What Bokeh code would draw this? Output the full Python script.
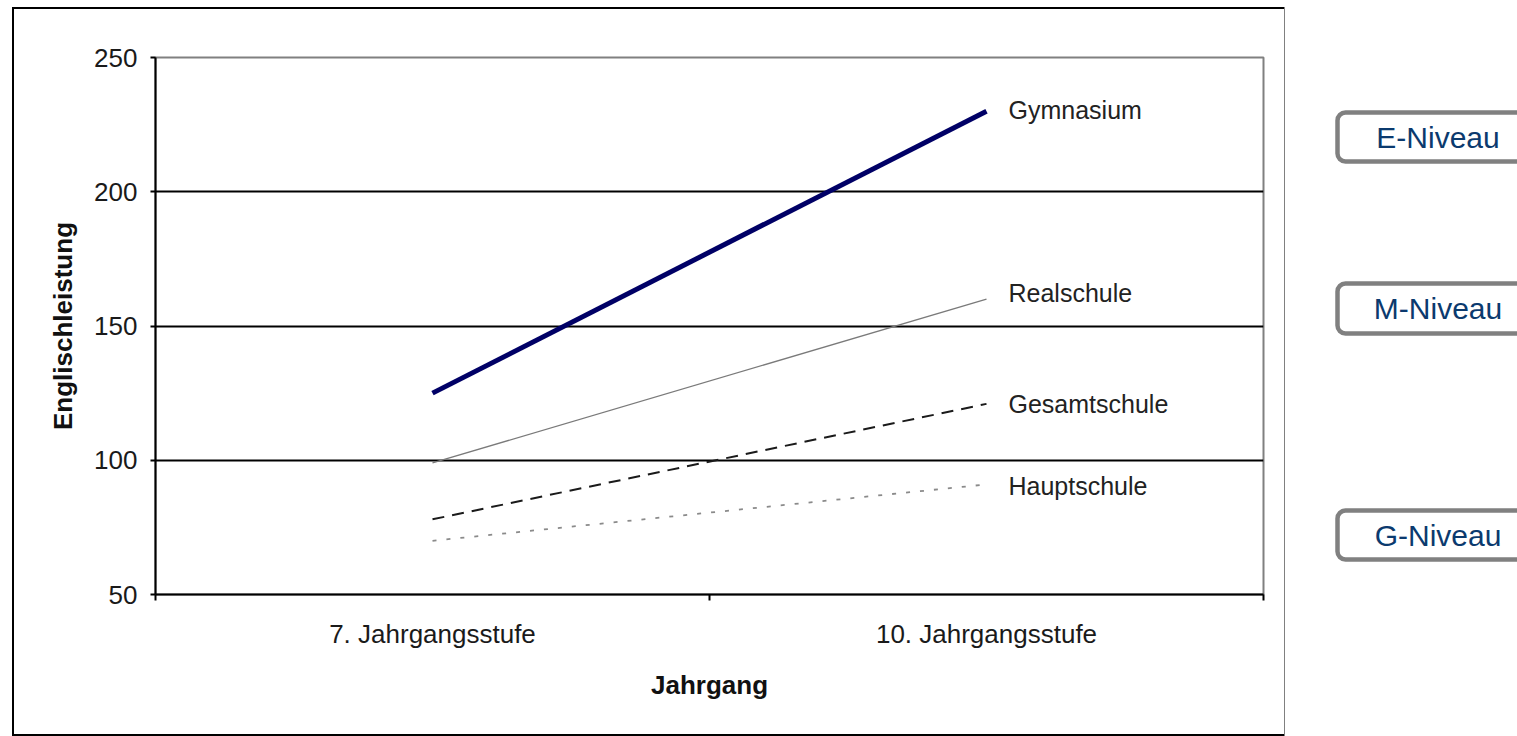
from bokeh.plotting import figure
from bokeh.layouts import row, column
from bokeh.models import Range1d, FixedTicker, ColumnDataSource, Spacer
from bokeh.core.properties import value
from bokeh.embed import file_html
from bokeh.resources import INLINE

# ---- data ----
years = ["7. Jahrgangsstufe", "10. Jahrgangsstufe"]
schools = ["Gymnasium", "Realschule", "Gesamtschule", "Hauptschule"]
gymnasium = [125, 230]
realschule = [99, 160]
gesamtschule = [78, 121]
hauptschule = [70, 91]
y_ticks = [50, 100, 150, 200, 250]
levels = ["E-Niveau", "M-Niveau", "G-Niveau"]

FONT = "Liberation Sans"
PAGE_W, PAGE_H = 1517, 736
CHART_X, CHART_Y, CHART_W, CHART_H = 14, 9, 1270, 725

# category slots on a linear scale: category i occupies [i, i+1], centred at i + 0.5
n = len(years)
xc = [i + 0.5 for i in range(n)]

p = figure(width=CHART_W, height=CHART_H, x_range=Range1d(0, n),
           y_range=Range1d(y_ticks[0], y_ticks[-1]),
           output_backend="svg", toolbar_location=None,
           min_border_left=141, min_border_right=21, min_border_top=48, min_border_bottom=140)
p.styles = {"outline": "2px solid #000000"}
p.background_fill_color = "white"
p.border_fill_color = "white"
p.outline_line_color = "#808080"
p.outline_line_width = 2

# y axis
ya = p.yaxis[0]
ya.ticker = FixedTicker(ticks=y_ticks, minor_ticks=[])
ya.axis_label = "Englischleistung"
ya.axis_label_text_font = FONT
ya.axis_label_text_font_style = "bold"
ya.axis_label_text_font_size = "26px"
ya.axis_label_text_color = "#111111"
ya.axis_label_standoff = 13
ya.major_label_text_font = FONT
ya.major_label_text_font_size = "26px"
ya.major_label_text_color = "#1a1a1a"
ya.major_label_standoff = 13
ya.axis_line_color = "black"
ya.axis_line_width = 2
ya.major_tick_line_color = "black"
ya.major_tick_line_width = 2
ya.major_tick_in = 0
ya.major_tick_out = 5
ya.minor_tick_line_color = None

p.ygrid.ticker = FixedTicker(ticks=y_ticks[1:-1], minor_ticks=[])
p.ygrid.grid_line_color = "black"
p.ygrid.grid_line_width = 2
p.xgrid.visible = False

# x axis: labels at category centres, tick marks at category boundaries
xa = p.xaxis[0]
xa.ticker = FixedTicker(ticks=xc, minor_ticks=list(range(n + 1)))
xa.major_label_overrides = {c: lab for c, lab in zip(xc, years)}
xa.major_tick_line_color = None
xa.major_tick_in = 0
xa.major_tick_out = 0
xa.minor_tick_line_color = "black"
xa.minor_tick_line_width = 2
xa.minor_tick_in = 0
xa.minor_tick_out = 6
xa.axis_line_color = "black"
xa.axis_line_width = 2
xa.major_label_standoff = 18
xa.major_label_text_font = FONT
xa.major_label_text_font_size = "26px"
xa.major_label_text_color = "#1a1a1a"
xa.axis_label = "Jahrgang"
xa.axis_label_text_font = FONT
xa.axis_label_text_font_style = "bold"
xa.axis_label_text_font_size = "26px"
xa.axis_label_text_color = "#111111"
xa.axis_label_standoff = 18

# ---- lines ----
p.line(x=xc, y=hauptschule, line_color="#8a8a8a", line_width=1.8, line_dash="4 10")
p.line(x=xc, y=gesamtschule, line_color="#1a1a1a", line_width=2, line_dash="12 8")
p.line(x=xc, y=realschule, line_color="#7a7a7a", line_width=1.3)
p.line(x=xc, y=gymnasium, line_color="#000066", line_width=5)

# ---- end labels ----
ends = [gymnasium[-1], realschule[-1], gesamtschule[-1], hauptschule[-1]]
label_dy = [-1, -6, 0, 2]  # small vertical nudges in pixels
src = ColumnDataSource(dict(x=[xc[-1]] * len(schools), y=ends, text=schools, dy=label_dy))
p.text(x="x", y="y", text="text", source=src, x_offset=22, y_offset="dy", text_baseline="middle",
       text_align="left", text_font=value(FONT), text_font_size="25px", text_color="#222222")

# ---- level boxes: a pixel-space panel to the right of the chart ----
side_x0 = CHART_X + CHART_W
side_w = PAGE_W - side_x0
s = figure(width=side_w, height=PAGE_H, x_range=Range1d(side_x0, PAGE_W),
           y_range=Range1d(PAGE_H, 0), output_backend="svg", toolbar_location=None,
           min_border=0, x_axis_location=None, y_axis_location=None)
s.outline_line_color = None
s.background_fill_color = "white"
s.border_fill_color = "white"
s.xgrid.visible = False
s.ygrid.visible = False

box_top = [112, 283, 510]
box_bottom = [161, 333, 559]
box_cy = [136.5, 308, 534.5]
s.quad(left=[1337] * 3, right=[1540] * 3, top=box_top, bottom=box_bottom,
       fill_color="white", line_color="#808080", line_width=4.5, border_radius=8)
s.text(x=[1437.5] * 3, y=box_cy, text=levels, text_align="center", text_baseline="middle",
       text_font=value(FONT), text_font_size="30px", text_color="#0b3a6e")

layout = row(Spacer(width=CHART_X, height=PAGE_H),
             column(Spacer(width=CHART_W, height=CHART_Y), p),
             s)

open("out.html", "w").write(file_html(layout, INLINE))
